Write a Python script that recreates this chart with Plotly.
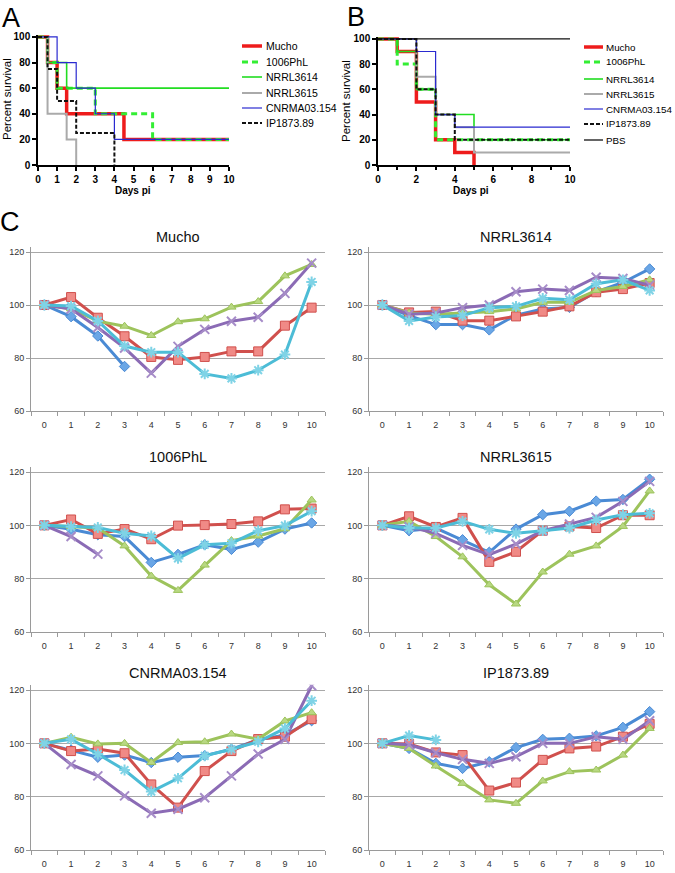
import plotly.graph_objects as go

W, H = 675, 873
FONT = "Arial, Liberation Sans, Helvetica, sans-serif"

# ---------------- Panel A survival data (change points) ----------------
strains_A = ["Mucho", "1006PhL", "NRRL3614", "NRRL3615", "CNRMA03.154", "IP1873.89"]
A_x = {
    "Mucho": [0, 0.5, 1, 1.5, 4.5, 10],
    "1006PhL": [0, 0.5, 1, 3, 6, 10],
    "NRRL3614": [0, 0.5, 1.5, 10],
    "NRRL3615": [0, 0.5, 1.5, 2],
    "CNRMA03.154": [0, 1, 2, 3, 4, 10],
    "IP1873.89": [0, 0.5, 1, 2, 4],
}
A_y = {
    "Mucho": [100, 80, 60, 40, 20, 20],
    "1006PhL": [100, 80, 60, 40, 20, 20],
    "NRRL3614": [100, 80, 60, 60],
    "NRRL3615": [100, 40, 20, 0],
    "CNRMA03.154": [100, 80, 60, 40, 20, 20],
    "IP1873.89": [100, 75, 50, 25, 0],
}
# ---------------- Panel B survival data ----------------
strains_B = ["Mucho", "1006PhL", "NRRL3614", "NRRL3615", "CNRMA03.154", "IP1873.89", "PBS"]
B_x = {
    "Mucho": [0, 1, 2, 3, 4, 5],
    "1006PhL": [0, 1, 2, 3, 10],
    "NRRL3614": [0, 1, 2, 3, 5, 10],
    "NRRL3615": [0, 2, 3, 4, 5, 10],
    "CNRMA03.154": [0, 2, 3, 4, 10],
    "IP1873.89": [0, 2, 3, 4, 10],
    "PBS": [0, 10],
}
B_y = {
    "Mucho": [100, 90, 50, 20, 10, 0],
    "1006PhL": [100, 80, 60, 20, 20],
    "NRRL3614": [100, 90, 60, 40, 20, 20],
    "NRRL3615": [100, 70, 40, 30, 10, 10],
    "CNRMA03.154": [100, 90, 40, 30, 30],
    "IP1873.89": [100, 60, 40, 20, 20],
    "PBS": [100, 100],
}
surv_style = {
    "Mucho": dict(color="#ee1c1c", width=3.5, dash="solid"),
    "1006PhL": dict(color="#33ee33", width=3, dash="6px,4px"),
    "NRRL3614": dict(color="#22dd22", width=1.6, dash="solid"),
    "NRRL3615": dict(color="#aaaaaa", width=2, dash="solid"),
    "CNRMA03.154": dict(color="#2a2ad0", width=1.2, dash="solid"),
    "IP1873.89": dict(color="#111111", width=2, dash="4px,2px"),
    "PBS": dict(color="#111111", width=1.3, dash="solid"),
}

# ---------------- Panel C weight data ----------------
days = list(range(11))
panel_titles = ["Mucho", "NRRL3614", "1006PhL", "NRRL3615", "CNRMA03.154", "IP1873.89"]
N = None
weights = {
    "Mucho": [
        [100, 95.6, 88.3, 76.8, N, N, N, N, N, N, N],
        [100, 103, 95.2, 88.2, 80.4, 79.3, 80.4, 82.5, 82.5, 92.2, 99],
        [100, 98.6, 93.9, 92, 88.5, 93.7, 94.8, 99.2, 101.3, 111, 115.3],
        [100, 98.5, 91.5, 83.8, 74.3, 84.4, 90.8, 93.9, 95.4, 104.4, 115.8],
        [100, 99.6, 94, 84.5, 82.2, 82.2, 74, 72.3, 75.4, 81.3, 108.7],
    ],
    "NRRL3614": [
        [100, 96, 92.6, 92.6, 90.6, 96.2, 98.5, 99.1, 105, 108.5, 113.6],
        [100, 97.2, 97.5, 94.1, 94.1, 95.7, 97.5, 99.5, 104.8, 106, 108.3],
        [100, 97, 96.5, 97, 97.5, 98.5, 101, 101, 105.5, 107, 109.5],
        [100, 96.5, 97, 99, 100, 105, 106, 105.5, 110.5, 110, 107.5],
        [100, 94, 95.5, 96, 99, 99.5, 102.5, 102, 108, 109.5, 105.5],
    ],
    "1006PhL": [
        [100, 98.5, 96.5, 95.8, 86.1, 89.1, 92.7, 91, 93.7, 98.6, 100.9],
        [100, 102.2, 96.8, 98.6, 94.8, 99.9, 100.1, 100.5, 101.5, 106, 106.3],
        [100, 99.5, 99, 92.3, 81, 75.6, 85.1, 94.3, 96, 98.7, 109.5],
        [100, 95.8, 89.2, N, N, N, N, N, N, N, N],
        [100, 99.5, 99.2, 97, 96, 87.6, 92.7, 93.3, 98, 99.9, 105.3],
    ],
    "NRRL3615": [
        [100, 98, 99, 94.6, 89.9, 98.6, 104, 105.3, 109.1, 109.7, 117.3],
        [100, 103.4, 99.4, 102.8, 86.3, 90.1, 98, 99.6, 99, 103.8, 103.8],
        [100, 101.5, 95.8, 88.2, 77.7, 70.5, 82.5, 89.2, 92.3, 99.6, 112.9],
        [100, 99.5, 97, 92.5, 89, 93, 98, 100.5, 103, 109, 116.5],
        [100, 99, 99, 101.5, 98.5, 97, 98, 99, 102, 104, 104.5],
    ],
    "CNRMA03.154": [
        [100, 97.5, 94.8, 95.6, 92.8, 94.8, 95.4, 97.8, 101.3, 103.1, 108.5],
        [100, 97.1, 97.9, 96.3, 84.6, 75.9, 89.6, 97.1, 101.6, 102.5, 109.1],
        [100, 102.3, 99.8, 100, 92.8, 100.3, 100.6, 103.5, 101.6, 108.4, 111.5],
        [100, 92.1, 87.8, 80.3, 73.8, 75.3, 79.6, 87.8, 96, 101.5, 121.6],
        [100, 101.5, 96, 90, 81.9, 86.9, 95.3, 97.8, 100.6, 105.6, 116],
    ],
    "IP1873.89": [
        [100, 98.1, 92.5, 90.6, 93.1, 98.4, 101.5, 101.9, 102.8, 106, 111.9],
        [100, 99.8, 96.6, 95.6, 82.3, 85.3, 93.8, 98.1, 98.8, 102.5, 107.3],
        [100, 98.1, 91.5, 85, 78.8, 77.5, 85.9, 89.4, 90, 95.6, 105.6],
        [100, 99.5, 96.5, 94, 92.5, 95, 100, 100, 102.5, 101.5, 108.5],
        [100, 102.9, 101.3, N, N, N, N, N, N, N, N],
    ],
}
series_line = ["#4a8ad4", "#d0504d", "#9dc35c", "#8b6bb5", "#4cbcd6"]
series_marker = ["#6aa6e6", "#f08a86", "#b8d882", "#a68cc8", "#7fd3e6"]
series_symbol = ["diamond", "square", "triangle-up", "x-thin", "asterisk"]

fig = go.Figure()

# ---------------- Survival traces ----------------
for s in strains_A:
    st = surv_style[s]
    fig.add_trace(go.Scatter(x=A_x[s], y=A_y[s], mode="lines", line_shape="hv",
                             line=dict(color=st["color"], width=st["width"], dash=st["dash"]),
                             xaxis="x", yaxis="y", showlegend=False, hoverinfo="skip"))
for s in strains_B:
    st = surv_style[s]
    fig.add_trace(go.Scatter(x=B_x[s], y=B_y[s], mode="lines", line_shape="hv",
                             line=dict(color=st["color"], width=st["width"], dash=st["dash"]),
                             xaxis="x2", yaxis="y2", showlegend=False, hoverinfo="skip"))

# ---------------- Weight traces ----------------
for k, t in enumerate(panel_titles):
    ax = k + 3
    for i, vals in enumerate(weights[t]):
        sym = series_symbol[i]
        if sym in ("x-thin", "asterisk"):
            mk = dict(symbol=sym, size=9, color=series_marker[i],
                      line=dict(color=series_marker[i], width=2))
        else:
            mk = dict(symbol=sym, size=8 if sym != "square" else 9, color=series_marker[i],
                      line=dict(color=series_line[i], width=1))
        fig.add_trace(go.Scatter(x=days, y=vals, mode="lines+markers",
                                 line=dict(color=series_line[i], width=3),
                                 marker=mk, xaxis="x%d" % ax, yaxis="y%d" % ax,
                                 showlegend=False, hoverinfo="skip"))

def px_x(p):
    return p / W

def px_y(p):
    return 1 - p / H

layout = dict(width=W, height=H, margin=dict(l=0, r=0, t=0, b=0, autoexpand=False),
              paper_bgcolor="white", plot_bgcolor="white", showlegend=False,
              font=dict(family=FONT, color="#000"))

surv_tick_font = dict(family=FONT, size=10, color="#000", weight="bold")
layout["xaxis"] = dict(domain=[px_x(38), px_x(229)], range=[0, 10], tickvals=list(range(11)),
                       showline=True, linecolor="#000", linewidth=1.5, ticks="outside",
                       ticklen=4, tickwidth=1.5, tickcolor="#000", showgrid=False,
                       zeroline=False, tickfont=surv_tick_font, anchor="y", automargin=False)
layout["yaxis"] = dict(domain=[px_y(165), px_y(35)], range=[0, 101.5], tickvals=[0, 20, 40, 60, 80, 100],
                       showline=True, linecolor="#000", linewidth=1.5, ticks="outside",
                       ticklen=4, tickwidth=1.5, tickcolor="#000", showgrid=False,
                       zeroline=False, tickfont=surv_tick_font, anchor="x", automargin=False)
layout["xaxis2"] = dict(domain=[px_x(378), px_x(570)], range=[0, 10], tickvals=[0, 2, 4, 6, 8, 10],
                        showline=True, linecolor="#000", linewidth=1.5, ticks="outside",
                        ticklen=4, tickwidth=1.5, tickcolor="#000", showgrid=False,
                        zeroline=False, tickfont=surv_tick_font, anchor="y2", automargin=False,
                        minor=dict(dtick=1, ticks="outside", ticklen=3, tickcolor="#000"))
layout["yaxis2"] = dict(domain=[px_y(165), px_y(37)], range=[0, 101.5], tickvals=[0, 20, 40, 60, 80, 100],
                        showline=True, linecolor="#000", linewidth=1.5, ticks="outside",
                        ticklen=4, tickwidth=1.5, tickcolor="#000", showgrid=False,
                        zeroline=False, tickfont=surv_tick_font, anchor="x2", automargin=False)

cols = [[px_x(31), px_x(325)], [px_x(369), px_x(663)]]
rows = [[px_y(411), px_y(246.7)], [px_y(632), px_y(466.7)], [px_y(850), px_y(684.7)]]
c_tick_font = dict(family=FONT, size=9, color="#333")
for k in range(6):
    ax = k + 3
    r, c = divmod(k, 2)
    layout["xaxis%d" % ax] = dict(domain=cols[c], range=[-0.5, 10.5], tickvals=days,
                                  ticks="", showline=True, linecolor="#9a9a9a", linewidth=1,
                                  showgrid=False, zeroline=False, tickfont=c_tick_font,
                                  anchor="y%d" % ax, automargin=False, ticklabelstandoff=5,
                                  minor=dict(tickmode="array", tickvals=[d - 0.5 for d in range(12)],
                                             ticks="outside", ticklen=4, tickcolor="#9a9a9a"))
    layout["yaxis%d" % ax] = dict(domain=rows[r], range=[60, 122], tickvals=[60, 80, 100, 120],
                                  showline=True, linecolor="#9a9a9a", linewidth=1, ticks="outside",
                                  ticklen=4, tickcolor="#9a9a9a", showgrid=True, gridcolor="#a8a8a8",
                                  gridwidth=1, zeroline=False, tickfont=c_tick_font,
                                  anchor="x%d" % ax, automargin=False)
fig.update_layout(**layout)

ann = []
shapes = []
# panel letters
for txt, x, y in [("A", 11, 18), ("B", 356, 17), ("C", 10, 222)]:
    ann.append(dict(text=txt, x=px_x(x), y=px_y(y), xref="paper", yref="paper", showarrow=False,
                    font=dict(family=FONT, size=27, color="#000"), xanchor="center", yanchor="middle"))
# axis titles for survival panels
for x, y in ((7, 99), (346, 101)):
    ann.append(dict(text="Percent survival", x=px_x(x), y=px_y(y), xref="paper", yref="paper",
                    showarrow=False, textangle=-90, font=dict(family=FONT, size=11.5, color="#000"),
                    xanchor="center", yanchor="middle"))
for x in (133, 471):
    ann.append(dict(text="<b>Days pi</b>", x=px_x(x), y=px_y(190), xref="paper", yref="paper",
                    showarrow=False, font=dict(family=FONT, size=10, color="#000"),
                    xanchor="center", yanchor="middle"))
# legends
leg_A_y = [46, 62, 77, 93, 108, 123]
for s, y in zip(strains_A, leg_A_y):
    st = surv_style[s]
    shapes.append(dict(type="line", xref="paper", yref="paper", x0=px_x(242), x1=px_x(262),
                       y0=px_y(y), y1=px_y(y), line=dict(color=st["color"], width=st["width"], dash=st["dash"])))
    ann.append(dict(text=s, x=px_x(264), y=px_y(y), xref="paper", yref="paper", showarrow=False,
                    xanchor="left", yanchor="middle", font=dict(family=FONT, size=10.5, color="#000")))
leg_B_y = [47, 62, 79, 94, 109, 124, 140]
for s, y in zip(strains_B, leg_B_y):
    st = surv_style[s]
    shapes.append(dict(type="line", xref="paper", yref="paper", x0=px_x(584), x1=px_x(603),
                       y0=px_y(y), y1=px_y(y), line=dict(color=st["color"], width=st["width"], dash=st["dash"])))
    ann.append(dict(text=s, x=px_x(604), y=px_y(y), xref="paper", yref="paper", showarrow=False,
                    xanchor="left", yanchor="middle", font=dict(family=FONT, size=9.8, color="#000")))
# subplot titles
title_pos = [(178, 237), (516, 237), (178, 457), (516, 457), (178, 673), (516, 673)]
for t, (x, y) in zip(panel_titles, title_pos):
    ann.append(dict(text=t, x=px_x(x), y=px_y(y), xref="paper", yref="paper", showarrow=False,
                    xanchor="center", yanchor="middle", font=dict(family=FONT, size=14.5, color="#111")))

fig.update_layout(annotations=ann, shapes=shapes)
fig.write_html("out.html", config={"displayModeBar": False},
               post_script="document.body.style.margin='0';document.body.style.overflow='hidden';")
